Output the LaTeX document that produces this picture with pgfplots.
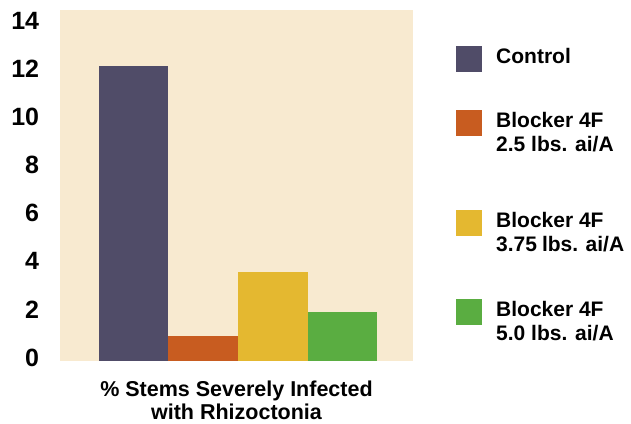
\documentclass[border=0pt]{standalone}
\usepackage{pgfplots}
\pgfplotsset{compat=1.18}
\usepackage{fontspec}
\setmainfont{Liberation Sans}
\definecolor{bgc}{RGB}{248,234,208}
\definecolor{cctrl}{RGB}{80,76,104}
\definecolor{corange}{RGB}{200,92,32}
\definecolor{cyellow}{RGB}{228,184,48}
\definecolor{cgreen}{RGB}{90,173,65}
\pgfplotsset{sq/.style={legend image code/.code={\fill[##1] (0pt,-9pt) rectangle (26pt,17pt); \path[draw=none,fill=none] (0pt,-#1) -- (0pt,0pt);}}}
\begin{document}
\begin{tikzpicture}
\path[use as bounding box] (0,0) rectangle (631pt,423pt);
\begin{axis}[
  at={(60pt,62pt)}, anchor=south west,
  scale only axis, width=353pt, height=351pt,
  xmin=-0.061, xmax=5.018, ymin=0, ymax=14.6,
  axis background/.style={fill=bgc},
  axis line style={draw=none},
  major tick length=0pt,
  xtick=\empty,
  ytick={0,2,4,6,8,10,12,14},
  /pgf/number format/assume math mode=true,
  yticklabel style={font=\fontsize{25}{30}\selectfont\bfseries, inner sep=0pt, anchor=east, xshift=-20.7pt, yshift=3.5pt},
  xlabel={\% Stems Severely Infected\\with Rhizoctonia},
  xlabel style={font=\fontsize{21.5}{23}\selectfont\bfseries, align=center, at={(axis description cs:0.5,0)}, anchor=north, inner sep=0pt, yshift=-20pt},
  legend style={draw=none, fill=none, inner sep=0pt, at={(axis description cs:1.1218,0.8974)}, anchor=north west,
    font=\fontsize{21}{24}\selectfont\bfseries, column sep=14pt, row sep=0pt,
    nodes={inner sep=0pt}, cells={anchor=base west}},
]
\addplot[ybar, bar width=1, bar shift=0pt, draw=none, fill=cctrl, sq=47pt] coordinates {(1,12.25)};
\addlegendentry{\parbox[t]{4.5cm}{Control}}
\addplot[ybar, bar width=1, bar shift=0pt, draw=none, fill=corange, sq=83pt] coordinates {(2,1.05)};
\addlegendentry{\parbox[t]{4.5cm}{Blocker 4F\\2.5 lbs. ai/A}}
\addplot[ybar, bar width=1, bar shift=0pt, draw=none, fill=cyellow, sq=72pt] coordinates {(3,3.7)};
\addlegendentry{\parbox[t]{4.5cm}{Blocker 4F\\3.75 lbs. ai/A}}
\addplot[ybar, bar width=1, bar shift=0pt, draw=none, fill=cgreen, sq=9pt] coordinates {(4,2.05)};
\addlegendentry{\parbox[t]{4.5cm}{Blocker 4F\\5.0 lbs. ai/A}}
\end{axis}
\end{tikzpicture}
\end{document}
